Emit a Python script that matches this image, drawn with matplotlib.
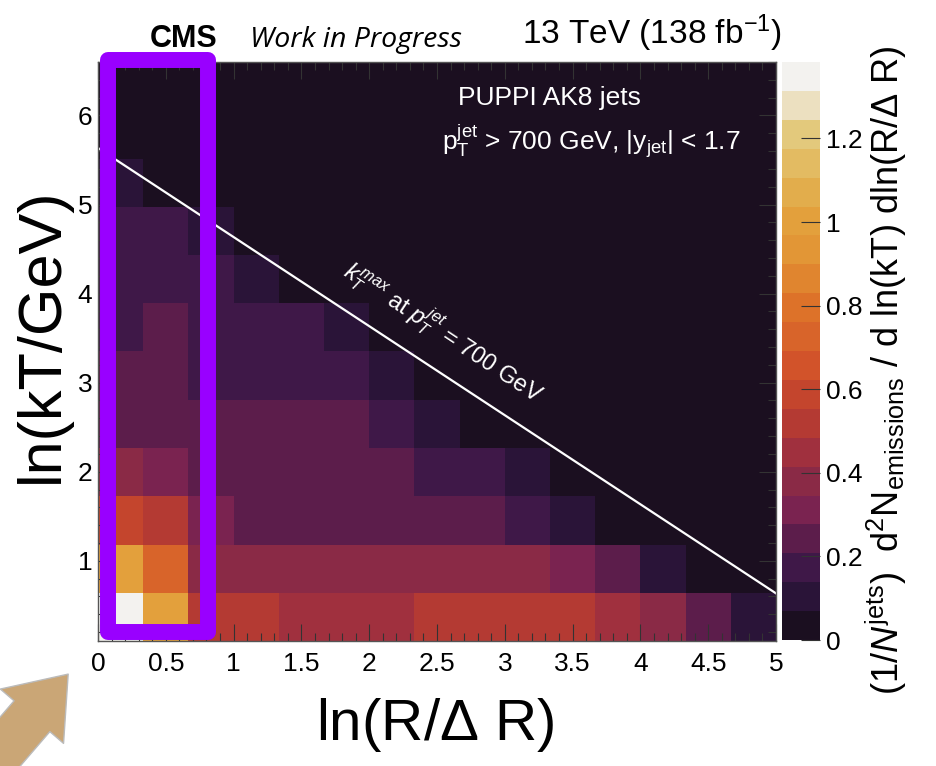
import numpy as np
import matplotlib
matplotlib.use("Agg")
import matplotlib.pyplot as plt
from matplotlib.colors import ListedColormap, Normalize
from matplotlib.patches import Rectangle, FancyArrowPatch
from matplotlib.ticker import MultipleLocator, FuncFormatter

plt.rcParams['font.family'] = ['Liberation Sans', 'DejaVu Sans']
plt.rcParams['mathtext.fontset'] = 'custom'
plt.rcParams['mathtext.rm'] = 'Liberation Sans'
plt.rcParams['mathtext.it'] = 'Liberation Sans:italic'
plt.rcParams['mathtext.bf'] = 'Liberation Sans:bold'

# bins of the Lund plane
x_edges = np.linspace(0, 5, 16)          # ln(R/dR), 15 bins
y_edges = 0.1 + 6.5 / 12 * np.arange(13)  # ln(kT/GeV), 12 bins

# emission density, one row per ln(kT) bin (bottom row first)
density = [
    [1.35, 1.00, 0.52, 0.52, 0.45, 0.45, 0.45, 0.52, 0.52, 0.52, 0.52, 0.45, 0.38, 0.24, 0.10],
    [1.00, 0.73, 0.38, 0.38, 0.38, 0.38, 0.38, 0.38, 0.38, 0.38, 0.31, 0.24, 0.10, 0.03, 0.03],
    [0.59, 0.52, 0.31, 0.24, 0.24, 0.24, 0.24, 0.24, 0.24, 0.17, 0.10, 0.03, 0.03, 0.03, 0.02],
    [0.38, 0.31, 0.24, 0.24, 0.24, 0.24, 0.24, 0.17, 0.17, 0.10, 0.03, 0.02, 0.02, 0.01, 0.01],
    [0.24, 0.24, 0.24, 0.24, 0.24, 0.24, 0.17, 0.10, 0.03, 0.02, 0.02, 0.01, 0.01, 0.01, 0.01],
    [0.24, 0.24, 0.17, 0.17, 0.17, 0.17, 0.10, 0.03, 0.02, 0.02, 0.01, 0.01, 0.01, 0.01, 0.01],
    [0.17, 0.24, 0.17, 0.17, 0.17, 0.10, 0.03, 0.02, 0.01, 0.01, 0.01, 0.01, 0.01, 0.01, 0.01],
    [0.17, 0.17, 0.17, 0.10, 0.03, 0.02, 0.01, 0.01, 0.01, 0.01, 0.01, 0.01, 0.01, 0.01, 0.01],
    [0.17, 0.17, 0.10, 0.03, 0.02, 0.01, 0.01, 0.01, 0.01, 0.01, 0.01, 0.01, 0.01, 0.01, 0.01],
    [0.10, 0.03, 0.02, 0.01, 0.01, 0.01, 0.01, 0.01, 0.01, 0.01, 0.01, 0.01, 0.01, 0.01, 0.01],
    [0.03, 0.02, 0.01, 0.01, 0.01, 0.01, 0.01, 0.01, 0.01, 0.01, 0.01, 0.01, 0.01, 0.01, 0.01],
    [0.02, 0.01, 0.01, 0.01, 0.01, 0.01, 0.01, 0.01, 0.01, 0.01, 0.01, 0.01, 0.01, 0.01, 0.01],
]
z_max = 1.383

palette = ['#1b0f20', '#2a1438', '#3f1848', '#5c1d4b', '#7a2350',
           '#8a2a46', '#a0303e', '#b43a33', '#c4452d', '#d2532a',
           '#d8642a', '#dd7229', '#e0852f', '#e29636', '#e3a03c',
           '#e2ad4c', '#e3bb62', '#e3c97c', '#ece0c0', '#f3f2ef']
cmap = ListedColormap(palette)

pt_cut = 700.0
jet_r = 0.4  # half of R=0.8 gives kT max = pT*R/2

W, H = 936, 766
def fx(px):
    return px / W
def fy(py):
    return 1 - py / H

fig = plt.figure(figsize=(W / 100, H / 100), dpi=100)
ax = fig.add_axes([fx(98), fy(641), (776 - 98) / W, (641 - 62) / H])

mesh = ax.pcolormesh(x_edges, y_edges, np.array(density), cmap=cmap,
                     norm=Normalize(0, z_max))
ax.set_xlim(0, 5)
ax.set_ylim(0.1, 6.6)

xl = np.linspace(0, 5, 50)
ax.plot(xl, np.log(pt_cut * jet_r) - xl, color='white', lw=1.6)

ax.xaxis.set_major_locator(MultipleLocator(0.5))
ax.xaxis.set_minor_locator(MultipleLocator(0.1))
ax.yaxis.set_major_locator(MultipleLocator(1))
ax.yaxis.set_minor_locator(MultipleLocator(0.2))
ax.xaxis.set_major_formatter(FuncFormatter(lambda v, p: '%g' % v))
ax.tick_params(which='both', direction='in', top=True, right=True,
               colors='#333333', labelcolor='black', labelsize=19, width=0.8)
ax.tick_params(which='major', length=12)
ax.tick_params(which='minor', length=6)
ax.tick_params(axis='x', pad=8)
ax.tick_params(axis='y', pad=4)
for s in ax.spines.values():
    s.set_color('#555555')
    s.set_linewidth(1.0)

ax.text(3.33, 6.2, 'PUPPI AK8 jets', color='white', fontsize=19,
        ha='center', va='center')
ax.text(3.64, 5.7, r'$\mathrm{p}_{\mathrm{T}}^{\mathrm{jet}}$ > 700 GeV, |y$_{\mathrm{jet}}$| < 1.7',
        color='white', fontsize=19, ha='center', va='center')
ax.text(2.55, 3.57, r'$k_{T}^{max}$ at $p_{T}^{jet}$ = 700 GeV', color='white',
        fontsize=17, ha='center', va='center', rotation=-33.5,
        rotation_mode='anchor')

cax = fig.add_axes([fx(782), fy(640), 38 / W, (640 - 62) / H])
cb = fig.colorbar(mesh, cax=cax)
cb.outline.set_visible(False)
cb.set_ticks([0, 0.2, 0.4, 0.6, 0.8, 1.0, 1.2])
cb.ax.yaxis.set_major_formatter(FuncFormatter(lambda v, p: '%g' % v))
cb.ax.tick_params(direction='in', length=14, width=0.8, labelsize=19,
                  colors='#333333', labelcolor='black', pad=4)

fig.text(fx(42), fy(335), 'ln(kT/GeV)', fontsize=44, rotation=90,
         ha='center', va='center')
fig.text(fx(435), fy(725), r'ln(R/$\Delta$ R)', fontsize=42,
         ha='center', va='center')
fig.text(fx(886), fy(370),
         r'$(1/N^{\mathrm{jets}})$  $\mathrm{d}^{2}\mathrm{N}_{\mathrm{emissions}}$ / d ln(kT) dln(R/$\Delta$ R)',
         fontsize=26, rotation=90, ha='center', va='center')

fig.text(fx(150), fy(47), 'CMS', fontsize=22, fontweight='bold',
         ha='left', va='baseline')
fig.text(fx(250), fy(47), 'Work in Progress', fontsize=20.5, style='italic',
         family=['Open Sans', 'DejaVu Sans'], ha='left', va='baseline')
fig.text(fx(522), fy(44), r'13 TeV (138 fb$^{-1}$)', fontsize=24,
         ha='left', va='baseline')

# highlight box around the first column bins
box = Rectangle((fx(108), fy(632)), (208 - 108) / W, (632 - 60) / H,
                transform=fig.transFigure, fill=False, edgecolor='#9900ff',
                lw=11.5, joinstyle='round', zorder=10)
fig.patches.append(box)

arrow = FancyArrowPatch((fx(-10), fy(765)), (fx(70), fy(672)),
                        transform=fig.transFigure,
                        arrowstyle='simple,head_length=2.0,head_width=3.0,tail_width=1.7',
                        mutation_scale=20, facecolor='#caa676',
                        edgecolor='#bbbbbb', lw=1.0, zorder=10)
fig.patches.append(arrow)

fig.savefig('out.png', dpi=100)
